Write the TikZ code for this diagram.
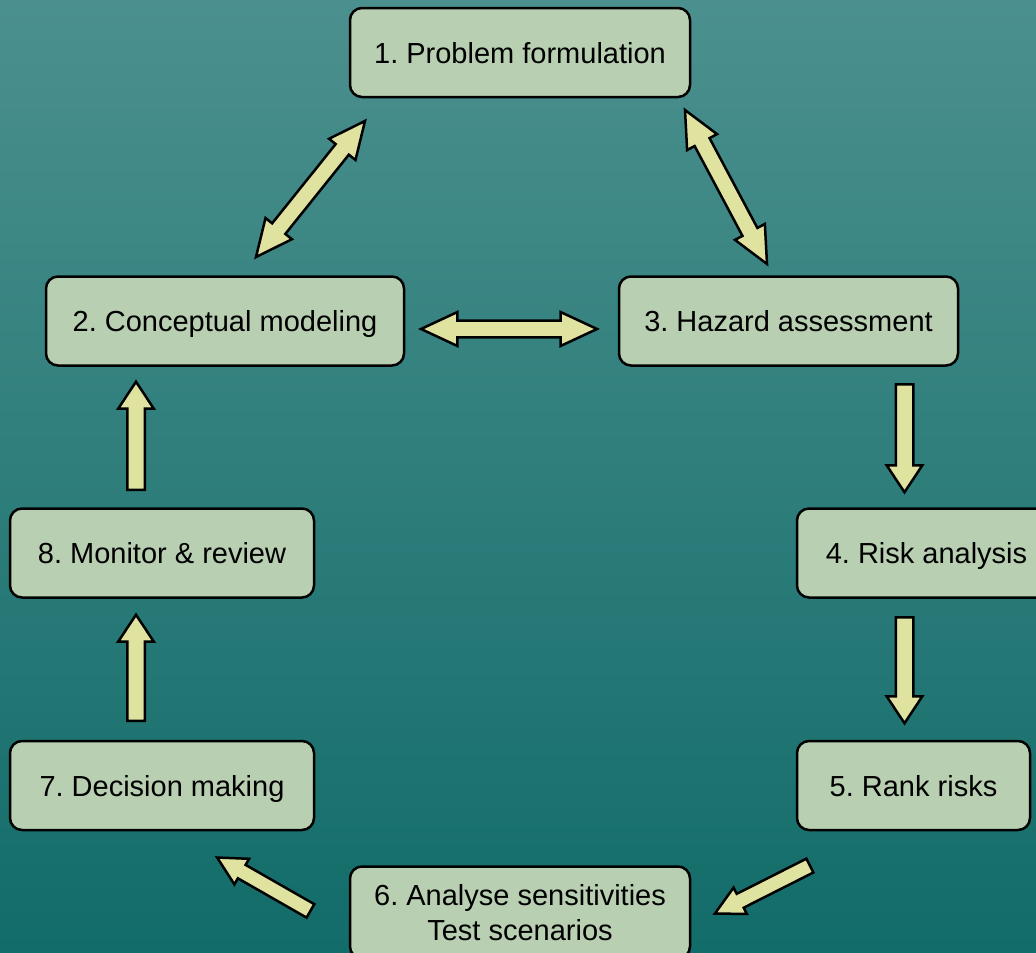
\documentclass[tikz,border=0pt]{standalone}
\usepackage{fontspec}
\setmainfont{Liberation Sans}
\frenchspacing
\usepackage{tikz}
\usetikzlibrary{shapes,arrows}
\usetikzlibrary{shapes.arrows}
\usetikzlibrary{positioning}
\usetikzlibrary{calc}
\definecolor{bgtop}{HTML}{4B908E}
\definecolor{bgbot}{HTML}{126C69}
\definecolor{boxfill}{HTML}{B8CFB2}
\definecolor{arrowfill}{HTML}{E0E2A0}
\tikzset{
    stage/.style={draw=black, line width=2.5pt, fill=boxfill, rounded corners=12pt,
        minimum height=89pt, align=center, font=\fontsize{29}{35}\selectfont, inner sep=0pt},
    oneline/.style={stage, text height=21pt, text depth=0pt},
    blockarrow/.style={single arrow, draw=black, line width=2.5pt, fill=arrowfill,
        inner sep=7.5pt, single arrow head extend=9pt, single arrow tip angle=67},
    slantarrow/.style={single arrow, draw=black, line width=2.5pt, fill=arrowfill,
        inner sep=6.5pt, single arrow head extend=7pt, single arrow tip angle=55},
    twoway/.style={double arrow, draw=black, line width=2.5pt, fill=arrowfill,
        inner sep=7.2pt, double arrow head extend=8.5pt, double arrow tip angle=50},
}
% arrow from tail #2 to tip #3, style #1
\newcommand{\flowarrow}[3]{\path let \p1=($(#3)-(#2)$), \n1={atan2(\y1,\x1)}, \n2={veclen(\x1,\y1)} in
    node[#1, anchor=tail, minimum height=\n2, rotate=\n1] at (#2) {};}
\newcommand{\swaparrow}[2]{\path let \p1=($(#2)-(#1)$), \n1={atan2(\y1,\x1)}, \n2={veclen(\x1,\y1)} in
    node[twoway, minimum height=\n2, rotate=\n1] at ($(#1)!0.5!(#2)$) {};}

\begin{document}
\begin{tikzpicture}[x=1pt, y=-1pt]
	\useasboundingbox (0,0) rectangle (1036,953);
	\shade[top color=bgtop, bottom color=bgbot] (0,0) rectangle (1036,953);
	% stages
	\node[oneline, minimum width=340pt] (formulate) at (520,52.5) {1. Problem formulation};
	\node[oneline, minimum width=358pt] (concept) at (225,321) {2. Conceptual modeling};
	\node[oneline, minimum width=339pt] (hazard) at (788.5,321) {3. Hazard assessment};
	\node[oneline, minimum width=259pt] (risk) at (926.5,553) {4. Risk analysis};
	\node[oneline, minimum width=233pt] (rank) at (913.5,785.5) {5. Rank risks};
	\node[stage, minimum width=340pt, minimum height=92pt] (sensitiv) at (520,912.5) {6. Analyse sensitivities\\Test scenarios};
	\node[oneline, minimum width=304pt] (decide) at (162,785.5) {7. Decision making};
	\node[oneline, minimum width=304pt] (monitor) at (162,553) {8. Monitor \& review};
	% arrow ends
	\coordinate (fc1) at (365,121);
	\coordinate (fc2) at (256,257);
	\coordinate (fh1) at (685,110);
	\coordinate (fh2) at (767,264);
	\coordinate (ch1) at (421,329);
	\coordinate (ch2) at (597,329);
	\coordinate (hr1) at (904.5,383);
	\coordinate (hr2) at (904.5,491);
	\coordinate (rr1) at (904.5,616);
	\coordinate (rr2) at (904.5,722);
	\coordinate (rs1) at (811,865);
	\coordinate (rs2) at (716,913);
	\coordinate (sd1) at (311.5,911.5);
	\coordinate (sd2) at (218,858);
	\coordinate (dm1) at (136,722);
	\coordinate (dm2) at (136,616);
	\coordinate (mc1) at (136,491);
	\coordinate (mc2) at (136,383);
	% arrows
	\swaparrow{fc1}{fc2}
	\swaparrow{fh1}{fh2}
	\swaparrow{ch1}{ch2}
	\flowarrow{blockarrow}{hr1}{hr2}
	\flowarrow{blockarrow}{rr1}{rr2}
	\flowarrow{slantarrow}{rs1}{rs2}
	\flowarrow{slantarrow}{sd1}{sd2}
	\flowarrow{blockarrow}{dm1}{dm2}
	\flowarrow{blockarrow}{mc1}{mc2}
\end{tikzpicture}
\end{document}
